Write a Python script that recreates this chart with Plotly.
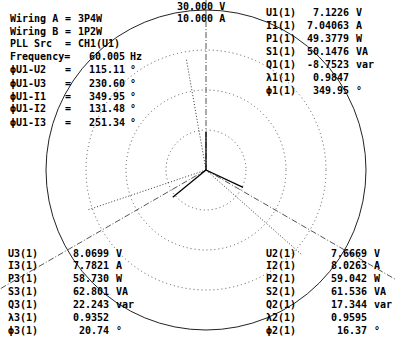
import numpy as np
import plotly.graph_objects as go

W, H = 396, 340
CX, CY, R = 206, 170, 160  # pixel centre and full-scale radius of the vector diagram

# ---- data ----
V_FULL = 30.0
A_FULL = 10.0
u_mag = [7.1226, 7.6669, 8.0699]
u_phase = [0.0, 115.11, 230.60]
i_mag = [7.04063, 8.0263, 7.7821]
i_phase = [349.95, 131.48, 251.34]
ref_phase = [0, 120, 240]
grid_rings = [0.25, 0.5, 0.75]
outer_ring = 1.0

setup_labels = ["Wiring A", "Wiring B", "PLL Src"]
setup_values = ["3P4W", "1P2W", "CH1(U1)"]
freq_label = "Frequency="
freq_value = "60.005"
freq_unit = "Hz"
phase_labels = ["\u03d5U1-U2", "\u03d5U1-U3", "\u03d5U1-I1", "\u03d5U1-I2", "\u03d5U1-I3"]
phase_values = ["115.11", "230.60", "349.95", "131.48", "251.34"]

scale_texts = ["30.000 V", "10.000 A"]

ch1_labels = ["U1(1)", "I1(1)", "P1(1)", "S1(1)", "Q1(1)", "\u03bb1(1)", "\u03d51(1)"]
ch1_values = ["7.1226", "7.04063", "49.3779", "50.1476", "-8.7523", "0.9847", "349.95"]
ch2_labels = ["U2(1)", "I2(1)", "P2(1)", "S2(1)", "Q2(1)", "\u03bb2(1)", "\u03d52(1)"]
ch2_values = ["7.6669", "8.0263", "59.042", "61.536", "17.344", "0.9595", "16.37"]
ch3_labels = ["U3(1)", "I3(1)", "P3(1)", "S3(1)", "Q3(1)", "\u03bb3(1)", "\u03d53(1)"]
ch3_values = ["8.0699", "7.7821", "58.730", "62.801", "22.243", "0.9352", "20.74"]
units = ["V", "A", "W", "VA", "var", "", "\u00b0"]

# ---- figure ----
fig = go.Figure()

def polar_xy(r, deg):
    t = np.radians(deg)
    return [0, r * np.sin(t)], [0, r * np.cos(t)]

# reference axes (dash-dot), extend beyond the circle
for ph in ref_phase:
    x, y = polar_xy(2.0, ph)
    fig.add_trace(go.Scatter(x=x, y=y, mode="lines",
                             line=dict(color="#555", width=1, dash="6px,2px,1px,2px"),
                             hoverinfo="skip"))
# current vectors (dotted)
for m, ph in zip(i_mag, i_phase):
    x, y = polar_xy(m / A_FULL, ph)
    fig.add_trace(go.Scatter(x=x, y=y, mode="lines",
                             line=dict(color="#333", width=1, dash="1px,2px"),
                             hoverinfo="skip"))
# voltage vectors (solid)
for m, ph in zip(u_mag, u_phase):
    x, y = polar_xy(m / V_FULL, ph)
    fig.add_trace(go.Scatter(x=x, y=y, mode="lines",
                             line=dict(color="#000", width=1.3),
                             hoverinfo="skip"))

shapes = []
for r in grid_rings:
    shapes.append(dict(type="circle", xref="x", yref="y", x0=-r, x1=r, y0=-r, y1=r,
                       line=dict(color="#555", width=1, dash="1px,3px"), layer="below"))
shapes.append(dict(type="circle", xref="x", yref="y", x0=-outer_ring, x1=outer_ring,
                   y0=-outer_ring, y1=outer_ring,
                   line=dict(color="#222", width=1), layer="below"))

FONT = dict(family="DejaVu Sans Mono", size=10, color="#000")
ann = []

def txt(px, py, s, anchor="left"):
    ann.append(dict(xref="paper", yref="paper", x=px / W, y=1 - py / H, text=s,
                    showarrow=False, xanchor=anchor, yanchor="middle",
                    font=FONT, borderpad=0))

# top-left block
row_h = 13.0
y0 = 18
for k, (lab, val) in enumerate(zip(setup_labels, setup_values)):
    yy = y0 + k * row_h
    txt(9, yy, "<b>" + lab + "</b>")
    txt(68, yy, "<b>=</b>", "center")
    txt(77, yy, "<b>" + val + "</b>")
yy = y0 + 3 * row_h
txt(9, yy, "<b>" + freq_label + "</b>")
txt(126, yy, "<b>" + freq_value + "</b>", "right")
txt(129, yy, "<b>" + freq_unit + "</b>")
for k, (lab, val) in enumerate(zip(phase_labels, phase_values)):
    yy = y0 + (4 + k) * row_h
    txt(9, yy, "<b>" + lab + "</b>")
    txt(68, yy, "<b>=</b>", "center")
    txt(126, yy, "<b>" + val + "</b>", "right")
    txt(129, yy, "<b>\u00b0</b>")

# scale texts
txt(176, 6, "<b>" + scale_texts[0] + "</b>")
txt(176, 18, "<b>" + scale_texts[1] + "</b>")

def block(x_lab, x_val, x_unit, y_start, labels, values):
    for k, (lab, val, un) in enumerate(zip(labels, values, units)):
        yy = y_start + k * 12.9
        txt(x_lab, yy, "<b>" + lab + "</b>")
        txt(x_val, yy, "<b>" + val + "</b>", "right")
        if un:
            txt(x_unit, yy, "<b>" + un + "</b>")

block(265, 350, 355, 13, ch1_labels, ch1_values)
block(265, 368, 373, 253, ch2_labels, ch2_values)
block(7, 110, 115, 253, ch3_labels, ch3_values)

fig.update_layout(
    width=W, height=H, margin=dict(l=0, r=0, t=0, b=0),
    paper_bgcolor="white", plot_bgcolor="white", showlegend=False,
    hovermode=False,
    xaxis=dict(range=[-CX / R, (W - CX) / R], visible=False, fixedrange=True),
    yaxis=dict(range=[-(H - CY) / R, CY / R], visible=False, fixedrange=True),
    shapes=shapes, annotations=ann,
)

fig.write_html("out.html", config={"displayModeBar": False},
               post_script="document.body.style.margin='0px';")
